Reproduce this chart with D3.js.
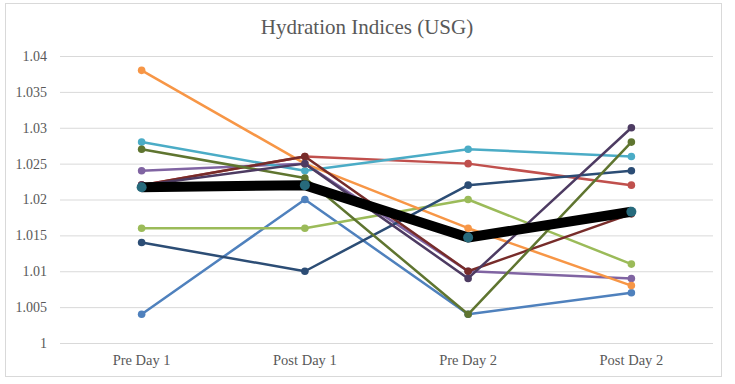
<!DOCTYPE html>
<html>
<head>
<meta charset="utf-8">
<script src="https://cdn.jsdelivr.net/npm/d3@7"></script>
<style>
  body { margin: 0; background: #fff; }
  text { font-family: "Liberation Serif", serif; fill: #595959; }
</style>
</head>
<body>
<script>
// data
const categories = ["Pre Day 1", "Post Day 1", "Pre Day 2", "Post Day 2"];
const yTicks = [1, 1.005, 1.01, 1.015, 1.02, 1.025, 1.03, 1.035, 1.04];

const blue     = [1.004, 1.020, 1.004, 1.007];
const red      = [1.022, 1.026, 1.025, 1.022];
const green    = [1.016, 1.016, 1.020, 1.011];
const purple   = [1.024, 1.025, 1.010, 1.009];
const aqua     = [1.028, 1.024, 1.027, 1.026];
const orange   = [1.038, 1.025, 1.016, 1.008];
const dkBlue   = [1.014, 1.010, 1.022, 1.024];
const dkRed    = [1.022, 1.026, 1.010, 1.018];
const dkGreen  = [1.027, 1.023, 1.004, 1.028];
const dkPurple = [1.022, 1.025, 1.009, 1.030];
const average  = [1.0217, 1.022, 1.0147, 1.0183];

const series = [
  { values: blue,     line: "#4F81BD", dot: "#4F81BD", w: 2.5, r: 3.8 },
  { values: red,      line: "#C0504D", dot: "#C0504D", w: 2.5, r: 3.8 },
  { values: green,    line: "#9BBB59", dot: "#9BBB59", w: 2.5, r: 3.8 },
  { values: purple,   line: "#8064A2", dot: "#8064A2", w: 2.5, r: 3.8 },
  { values: aqua,     line: "#4BACC6", dot: "#4BACC6", w: 2.5, r: 3.8 },
  { values: orange,   line: "#F79646", dot: "#F79646", w: 2.5, r: 3.8 },
  { values: dkBlue,   line: "#2C4D75", dot: "#2C4D75", w: 2.5, r: 3.8 },
  { values: dkRed,    line: "#772C2A", dot: "#772C2A", w: 2.5, r: 3.8 },
  { values: dkGreen,  line: "#5F7530", dot: "#5F7530", w: 2.5, r: 3.8 },
  { values: dkPurple, line: "#4D3B62", dot: "#4D3B62", w: 2.5, r: 3.8 },
  { values: average,  line: "#000000", dot: "#276A7C", w: 10,  r: 5 }
];

const W = 735, H = 384;
const svg = d3.select("body").append("svg")
  .attr("width", W).attr("height", H);

// chart frame
svg.append("rect")
  .attr("x", 5.5).attr("y", 3.5)
  .attr("width", 716).attr("height", 373)
  .attr("fill", "#fff").attr("stroke", "#d9d9d9");

const x = d3.scaleBand().domain(categories).range([60, 713]);
const y = d3.scaleLinear().domain([1, 1.04]).range([343, 56]);
const cx = c => x(c) + x.bandwidth() / 2;

// gridlines + y labels
const yAxis = svg.append("g")
  .attr("transform", "translate(60,0)")
  .call(d3.axisLeft(y).tickValues(yTicks).tickSize(-653).tickPadding(13)
    .tickFormat(d => +d.toFixed(3)));
yAxis.select(".domain").remove();
yAxis.selectAll("line").attr("stroke", "#d9d9d9");
yAxis.selectAll("text").attr("font-size", 14).attr("font-family", "Liberation Serif").attr("fill", "#595959");

// category labels
const xAxis = svg.append("g")
  .attr("transform", "translate(0,343)")
  .call(d3.axisBottom(x).tickSize(0).tickPadding(12));
xAxis.select(".domain").remove();
xAxis.selectAll("text").attr("font-size", 14.5).attr("font-family", "Liberation Serif").attr("fill", "#595959");

// title
svg.append("text")
  .attr("x", 367).attr("y", 34)
  .attr("text-anchor", "middle")
  .attr("font-size", 21)
  .text("Hydration Indices (USG)");

const line = d3.line()
  .x((d, i) => cx(categories[i]))
  .y(d => y(d));

series.forEach(s => {
  const g = svg.append("g");
  g.append("path")
    .attr("d", line(s.values))
    .attr("fill", "none")
    .attr("stroke", s.line)
    .attr("stroke-width", s.w)
    .attr("stroke-linejoin", "round");
  g.selectAll("circle").data(s.values).enter().append("circle")
    .attr("cx", (d, i) => cx(categories[i]))
    .attr("cy", d => y(d))
    .attr("r", s.r)
    .attr("fill", s.dot);
});
</script>
</body>
</html>
